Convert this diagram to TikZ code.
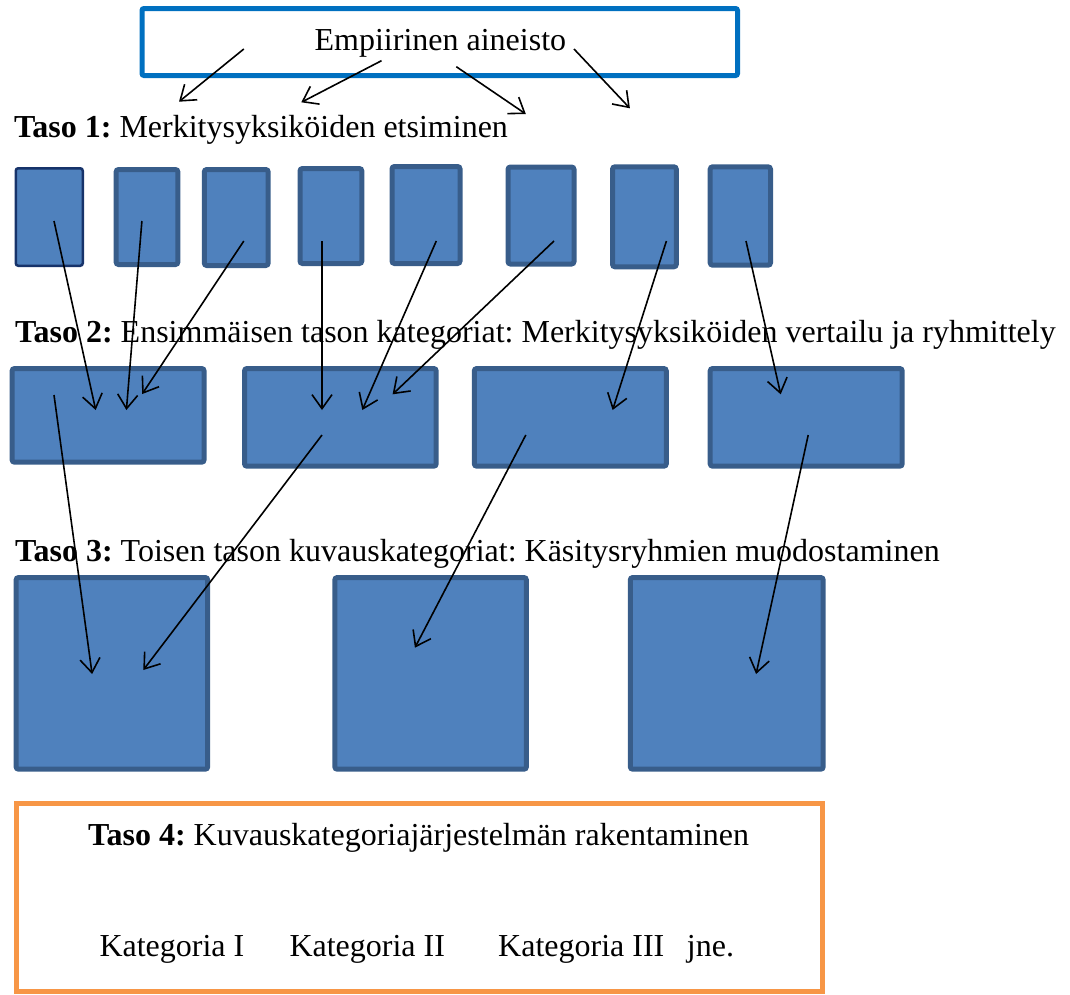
\documentclass[tikz,border=0pt]{standalone}
\usepackage{fontspec}
\setmainfont{Liberation Serif}
\usetikzlibrary{arrows.meta}
\definecolor{boxfill}{HTML}{4F81BD}
\definecolor{boxline}{HTML}{385D8A}
\definecolor{navyline}{HTML}{17336A}
\definecolor{topblue}{HTML}{0070C0}
\definecolor{orangeline}{HTML}{F79646}
\frenchspacing
\begin{document}
\begin{tikzpicture}[x=1pt,y=-1pt,
  ubox/.style={draw=boxline, fill=boxfill, line width=5pt, rounded corners=2.5pt, inner sep=0pt},
  txt/.style={anchor=base west, inner sep=0pt, font=\fontsize{32pt}{38pt}\selectfont\frenchspacing},
  conn/.style={line width=1.6pt, -{Straight Barb[length=14pt,width=20pt]}}]
\useasboundingbox (0,0) rectangle (1070,994);
% top and bottom frames
\node[draw=topblue, line width=5pt, rounded corners=2pt, minimum width=595.5pt, minimum height=67pt, inner sep=0pt] (top) at (439.75,42) {};
\node[draw=orangeline, line width=5pt, minimum width=806pt, minimum height=188pt, inner sep=0pt] (bottom) at (419.5,897.5) {};
% texts
\node[txt] (tEmp) at (314.4,50) {Empiirinen aineisto};
\node[txt] (tT1) at (13.8,137.7) {\textbf{Taso 1:} Merkitysyksiköiden etsiminen};
\node[txt] (tT2) at (15,342.7) {\textbf{Taso 2:} Ensimmäisen tason kategoriat: Merkitysyksiköiden vertailu ja ryhmittely};
\node[txt] (tT3) at (15,561.7) {\textbf{Taso 3:} Toisen tason kuvauskategoriat: Käsitysryhmien muodostaminen};
\node[txt] (tT4) at (88,845) {\textbf{Taso 4:} Kuvauskategoriajärjestelmän rakentaminen};
\node[txt] (k1) at (99.3,956.7) {Kategoria I};
\node[txt] (k2) at (289.3,956.7) {Kategoria II};
\node[txt] (k3) at (498,956.7) {Kategoria III};
\node[txt] (k4) at (686.7,956.7) {jne.};
% level 1 boxes
\node[ubox, draw=navyline, line width=2.5pt, minimum width=67pt, minimum height=97.5pt] (b1) at (49.25,217) {};
\node[ubox, minimum width=61.8pt, minimum height=95pt] (b2) at (147,217) {};
\node[ubox, minimum width=63.9pt, minimum height=96pt] (b3) at (236.25,217.5) {};
\node[ubox, minimum width=61.8pt, minimum height=95pt] (b4) at (330.9,216) {};
\node[ubox, minimum width=68pt, minimum height=97pt] (b5) at (426,215) {};
\node[ubox, minimum width=66pt, minimum height=97pt] (b6) at (541,215.5) {};
\node[ubox, minimum width=63.8pt, minimum height=100pt] (b7) at (644.4,216.8) {};
\node[ubox, minimum width=60.3pt, minimum height=98.4pt] (b8) at (740.35,216) {};
% level 2 boxes
\node[ubox, minimum width=192pt, minimum height=93.7pt] (c1) at (108.1,415.35) {};
\node[ubox, minimum width=191.7pt, minimum height=97.7pt] (c2) at (340.35,417.35) {};
\node[ubox, minimum width=192pt, minimum height=97.7pt] (c3) at (570.3,417.35) {};
\node[ubox, minimum width=192pt, minimum height=97.7pt] (c4) at (806.2,417.35) {};
% level 3 boxes
\node[ubox, minimum width=191.6pt, minimum height=191.7pt] (d1) at (111.9,673.35) {};
\node[ubox, minimum width=191.6pt, minimum height=191.7pt] (d2) at (430.6,673.35) {};
\node[ubox, minimum width=192.9pt, minimum height=191.7pt] (d3) at (726.75,673.35) {};
% connector end points
\coordinate (ts1) at (243.8,49);   \coordinate (te1) at (179,101.7);
\coordinate (ts2) at (381.5,60.7); \coordinate (te2) at (301.3,102.3);
\coordinate (ts3) at (456.3,66.7); \coordinate (te3) at (525.8,114);
\coordinate (ts4) at (574,49);     \coordinate (te4) at (629.9,108.3);
\coordinate (bs1) at (54,221);     \coordinate (ce1) at (95.7,410);
\coordinate (bs2) at (141.9,221);  \coordinate (ce2) at (126.4,410);
\coordinate (bs3) at (243.8,241);  \coordinate (ce3) at (142.2,394);
\coordinate (bs4) at (322,241);    \coordinate (ce4) at (322,410);
\coordinate (bs5) at (436.3,241);  \coordinate (ce5) at (362.3,410);
\coordinate (bs6) at (554,241);    \coordinate (ce6) at (392.6,394.3);
\coordinate (bs7) at (666.4,241);  \coordinate (ce7) at (612.6,410);
\coordinate (bs8) at (746,241);    \coordinate (ce8) at (780.7,394.3);
\coordinate (cs1) at (54,395);     \coordinate (de1) at (92.1,674);
\coordinate (cs2) at (322,435);    \coordinate (de2) at (143.3,670);
\coordinate (cs3) at (525.8,435);  \coordinate (de3) at (414.9,647.7);
\coordinate (cs4) at (808.2,435);  \coordinate (de4) at (756.1,674);
% connectors
\foreach \i in {1,...,4} {\draw[conn] (ts\i) -- (te\i);}
\foreach \i in {1,...,8} {\draw[conn] (bs\i) -- (ce\i);}
\foreach \i in {1,...,4} {\draw[conn] (cs\i) -- (de\i);}
\end{tikzpicture}
\end{document}
